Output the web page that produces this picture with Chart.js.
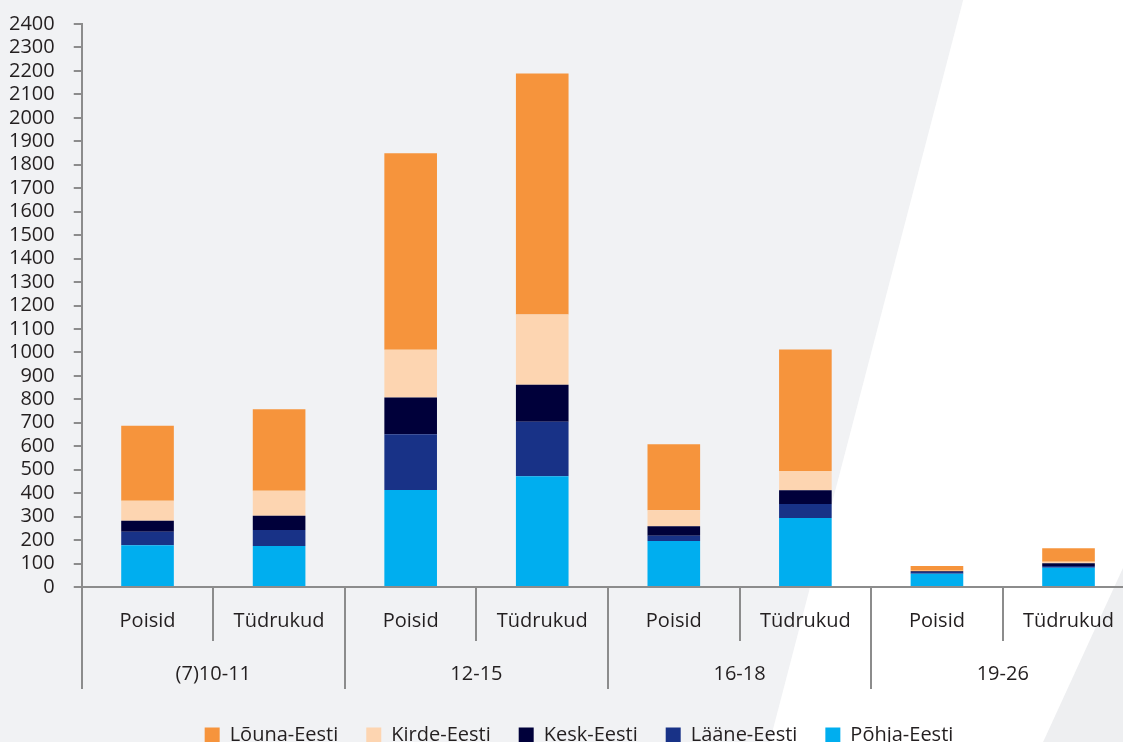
<!DOCTYPE html>
<html><head><meta charset="utf-8">
<script src="https://cdn.jsdelivr.net/npm/chart.js@4.4.1/dist/chart.umd.min.js"></script>
<style>
html,body{margin:0;padding:0;overflow:hidden;background:#f1f2f4;width:1123px;height:742px;}
#wrap{position:absolute;left:0;top:-7px;width:1136px;height:758px;}
</style></head><body>
<div id="wrap"><canvas id="c"></canvas></div>
<script>
const subLabels = ['Poisid','Tüdrukud','Poisid','Tüdrukud','Poisid','Tüdrukud','Poisid','Tüdrukud'];
const groupLabels = ['(7)10-11','12-15','16-18','19-26'];
const seriesNames = ['Põhja-Eesti','Lääne-Eesti','Kesk-Eesti','Kirde-Eesti','Lõuna-Eesti'];
const pohja = [178,175,414,472,196,294,57,82];
const laane = [58,68,237,232,22,60,7,8];
const kesk  = [46,61,157,158,41,58,3,11];
const kirde = [86,106,203,300,68,83,2,7];
const louna = [319,348,838,1027,282,517,21,57];
const yMin = 0, yMax = 2400, yStep = 100;
const colors = ['#00aeef','#183287','#00003a','#fdd5b1','#f6943c'];

const FONT = "'Open Sans', sans-serif";
const TXT = '#231f20';
const AX = '#8c8c8c';
const OY = 7;

const bgPlugin = {
  id:'bg',
  beforeDraw(chart){
    const ctx = chart.ctx, w = chart.width, h = chart.height;
    ctx.save();
    ctx.fillStyle = '#f1f2f4';
    ctx.fillRect(0,0,w,h);
    ctx.fillStyle = '#ffffff';
    ctx.beginPath();
    ctx.moveTo(965,0); ctx.lineTo(w,0); ctx.lineTo(w,540+OY); ctx.lineTo(1035,760+OY); ctx.lineTo(765,760+OY);
    ctx.closePath(); ctx.fill();
    ctx.fillStyle = '#eeeff1';
    ctx.beginPath();
    ctx.moveTo(w,540+OY); ctx.lineTo(w,760+OY); ctx.lineTo(1035,760+OY);
    ctx.closePath(); ctx.fill();
    ctx.restore();
  }
};

const sepPlugin = {
  id:'sep',
  afterDraw(chart){
    const xs = chart.scales.x, ctx = chart.ctx;
    const step = xs.getPixelForValue(1) - xs.getPixelForValue(0);
    const x0 = xs.getPixelForValue(0) - step/2;
    ctx.save();
    ctx.strokeStyle = AX; ctx.lineWidth = 2;
    for (let i = 0; i < subLabels.length; i++) {
      const x = Math.round(x0 + i*step);
      const y0 = xs.top;
      const y1 = (i % 2 === 0) ? y0 + 102 : y0 + 54;
      ctx.beginPath(); ctx.moveTo(x, y0); ctx.lineTo(x, y1); ctx.stroke();
    }
    ctx.restore();
  }
};

const LDX = 16, LDY = 4;
const legendShift = {
  id:'legendShift',
  afterLayout(chart){
    const lg = chart.legend;
    if (lg) {
      lg.left += LDX; lg.right += LDX; lg.top += LDY; lg.bottom += LDY;
      if (lg.legendHitBoxes) lg.legendHitBoxes.forEach(b=>{b.left+=LDX; b.top+=LDY;});
    }
  }
};

const datasets = [pohja, laane, kesk, kirde, louna].map((d,i)=>({
  label: seriesNames[i], data: d, backgroundColor: colors[i], borderWidth: 0,
  barPercentage: 0.40, categoryPercentage: 1.0, xAxisID:'x', yAxisID:'y'
}));

new Chart(document.getElementById('c'), {
  type:'bar',
  data:{ labels: subLabels, datasets },
  plugins:[bgPlugin, sepPlugin, legendShift],
  options:{
    responsive:true, maintainAspectRatio:false, animation:false,
    layout:{ padding:{ left:-10, top:9, right:0, bottom:0 } },
    plugins:{
      tooltip:{enabled:false},
      legend:{
        position:'bottom', reverse:true,
        labels:{ boxWidth:15, boxHeight:15, padding:28, color:TXT, font:{family:FONT,size:20} }
      }
    },
    scales:{
      y:{
        stacked:true, min:yMin, max:yMax,
        ticks:{ stepSize:yStep, autoSkip:false, color:TXT, font:{family:FONT,size:20}, padding:19,
                callback:(v)=>String(v) },
        grid:{ drawOnChartArea:false, drawTicks:true, tickLength:8, color:AX, lineWidth:2 },
        border:{ color:AX, width:2 }
      },
      x:{
        stacked:true, offset:true,
        ticks:{ color:TXT, font:{family:FONT,size:20}, padding:22, maxRotation:0, autoSkip:false },
        grid:{ display:true, drawOnChartArea:false, drawTicks:false },
        border:{ color:AX, width:2 }
      },
      x2:{
        type:'category', labels: groupLabels, position:'bottom', offset:true,
        ticks:{ color:TXT, font:{family:FONT,size:20}, padding:7, maxRotation:0, autoSkip:false },
        grid:{ display:false, drawTicks:false },
        border:{ display:false }
      }
    }
  }
});
</script>
</body></html>
